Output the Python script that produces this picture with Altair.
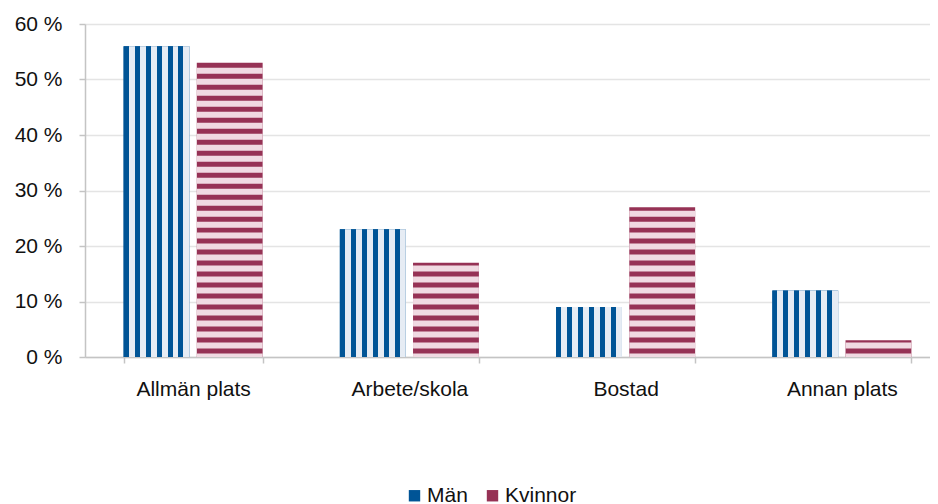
import altair as alt
import pandas as pd

# ---- data ----
categories = ["Allmän plats", "Arbete/skola", "Bostad", "Annan plats"]
series = ["Män", "Kvinnor"]
man = [56, 23, 9, 12]
kvinnor = [53, 17, 27, 3]
y_ticks = [0, 10, 20, 30, 40, 50, 60]

# ---- style ----
BLUE = "#005496"
BLUE_LIGHT = "#e6ecf4"
MAROON = "#963255"
PINK_LIGHT = "#f0dae2"
FONT = "Liberation Sans"
FONT_SIZE = 21
TEXT = "#111111"
AXIS_GRAY = "#c4c4c4"
GRID_GRAY = "#e4e4e4"

# stripe pattern (decoration only, in percent units)
PERIOD = 1.98
DARK_LO = 0.63
DARK_HI = 1.53

rows = []
for c, m, k in zip(categories, man, kvinnor):
    rows.append({"kategori": c, "kon": "Män", "andel": m})
    rows.append({"kategori": c, "kon": "Kvinnor", "andel": k})
df = pd.DataFrame(rows)

# light bands laid over the dark Kvinnor bars (horizontal stripe pattern)
stripe_rows = []
for c, k in zip(categories, kvinnor):
    lo, hi, n = 0.0, DARK_LO, 0
    while lo < k:
        stripe_rows.append({"kategori": c, "kon": "Kvinnor", "y0": lo, "y1": min(hi, k)})
        lo = DARK_HI + PERIOD * n
        hi = DARK_LO + PERIOD * (n + 1)
        n += 1
stripes = pd.DataFrame(stripe_rows)

# vertical stripe gradient for Män bars (6 stripes per bar)
stops = []
N = 6
dark_frac = 5 / 11
for i in range(N):
    a = i / N
    b = (i + dark_frac) / N
    e = (i + 1) / N
    stops += [
        {"offset": a, "color": BLUE},
        {"offset": b, "color": BLUE},
        {"offset": b, "color": BLUE_LIGHT},
        {"offset": e, "color": BLUE_LIGHT},
    ]
man_gradient = {"gradient": "linear", "x1": 0, "y1": 0, "x2": 1, "y2": 0, "stops": stops}

x_axis = alt.Axis(
    title=None, labelAngle=0, tickBand="extent", grid=False,
    domainColor=AXIS_GRAY, domainWidth=1.5, tickColor=AXIS_GRAY, tickWidth=1.5,
    tickSize=6, labelPadding=15, labelFont=FONT, labelFontSize=FONT_SIZE, labelColor=TEXT,
)
y_axis = alt.Axis(
    title=None, values=y_ticks, labelExpr="datum.value + ' %'",
    grid=True, gridColor=GRID_GRAY, gridWidth=1.3,
    domainColor=AXIS_GRAY, domainWidth=1.5, tickColor=AXIS_GRAY, tickWidth=1.5,
    tickSize=6, labelPadding=17, labelFont=FONT, labelFontSize=FONT_SIZE, labelColor=TEXT,
)
x_scale = alt.Scale(range=[0, 865], paddingInner=0.357, paddingOuter=0.1785)
y_scale = alt.Scale(domain=[0, 60])

x_enc = alt.X("kategori:N", sort=categories, scale=x_scale, axis=x_axis)
xo_enc = alt.XOffset("kon:N", sort=series, scale=alt.Scale(domain=series, paddingInner=0.1))

base = alt.Chart(df).mark_bar(strokeWidth=0).encode(
    x=x_enc,
    xOffset=xo_enc,
    y=alt.Y("andel:Q", scale=y_scale, axis=y_axis),
    fill=alt.Fill(
        "kon:N", sort=series,
        scale=alt.Scale(domain=series, range=[BLUE, MAROON]),
        legend=alt.Legend(
            orient="none", legendX=319, legendY=461, direction="horizontal",
            title=None, symbolType="square", symbolSize=130, symbolStrokeWidth=0,
            labelFont=FONT, labelFontSize=FONT_SIZE, labelColor=TEXT,
            labelOffset=2, columnPadding=14, padding=0,
        ),
    ),
)

man_layer = alt.Chart(df).transform_filter(alt.datum.kon == "Män").mark_bar(
    fill=man_gradient, strokeWidth=0
).encode(
    x=x_enc,
    xOffset=xo_enc,
    y=alt.Y("andel:Q", scale=y_scale, axis=y_axis),
)

kv_layer = alt.Chart(stripes).mark_bar(fill=PINK_LIGHT, strokeWidth=0).encode(
    x=x_enc,
    xOffset=xo_enc,
    y=alt.Y("y0:Q", scale=y_scale, axis=y_axis),
    y2="y1:Q",
)

chart = alt.layer(base, man_layer, kv_layer).properties(
    width=845, height=333, autosize="none",
    padding={"left": 77, "top": 16, "right": 0, "bottom": 147},
).configure_view(stroke=None)

chart.save("out.html", embed_options={"renderer": "svg", "actions": False})
